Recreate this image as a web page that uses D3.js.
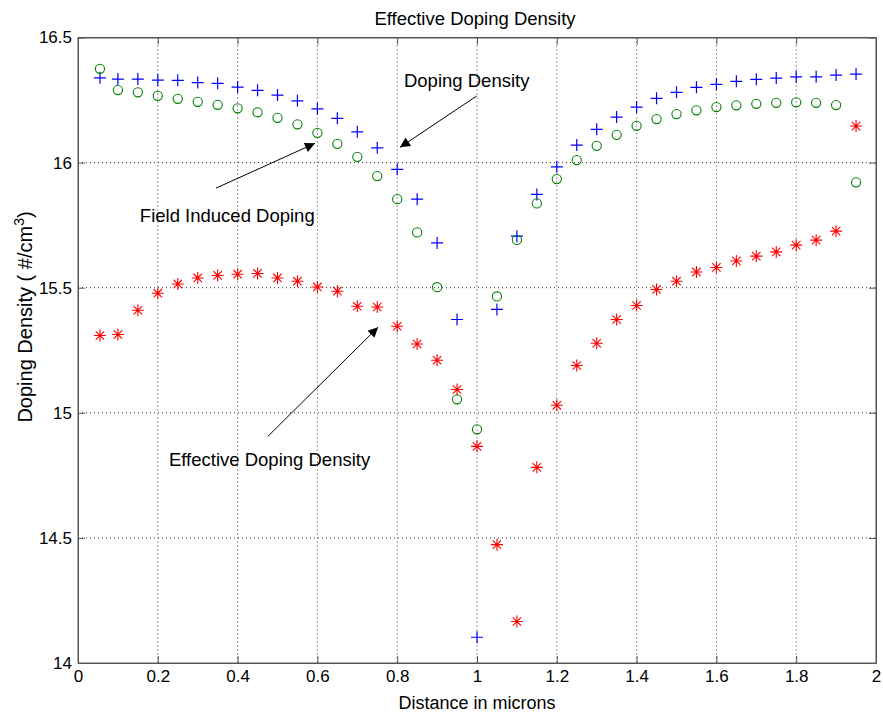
<!DOCTYPE html>
<html>
<head>
<meta charset="utf-8">
<script src="https://cdn.jsdelivr.net/npm/d3@7"></script>
<style>
  body { margin: 0; background: #fff; }
  text { font-family: "Liberation Sans", Arial, sans-serif; fill: #000; }
</style>
</head>
<body>
<svg id="chart" width="883" height="717"></svg>
<script>
// Inputs
const xPos = [0.055, 0.1, 0.15, 0.2, 0.25, 0.3, 0.35, 0.4, 0.45, 0.5, 0.55, 0.6, 0.65, 0.7,
  0.75, 0.8, 0.85, 0.9, 0.95, 1.0, 1.05, 1.1, 1.15, 1.2, 1.25, 1.3, 1.35, 1.4, 1.45,
  1.5, 1.55, 1.6, 1.65, 1.7, 1.75, 1.8, 1.85, 1.9, 1.95];

const dopingDensity = [16.339, 16.334, 16.334, 16.33, 16.329, 16.32, 16.317, 16.302, 16.289,
  16.27, 16.247, 16.215, 16.177, 16.123, 16.059, 15.973, 15.854, 15.679, 15.373, 14.103,
  15.413, 15.706, 15.873, 15.983, 16.07, 16.133, 16.182, 16.222, 16.257, 16.281, 16.301,
  16.313, 16.325, 16.333, 16.338, 16.343, 16.343, 16.35, 16.354];

const fieldInduced = [16.375, 16.29, 16.281, 16.267, 16.255, 16.243, 16.231, 16.217, 16.201,
  16.179, 16.153, 16.119, 16.075, 16.023, 15.946, 15.854, 15.721, 15.502, 15.054, 14.934,
  15.465, 15.691, 15.837, 15.934, 16.01, 16.067, 16.111, 16.147, 16.174, 16.194, 16.209,
  16.222, 16.229, 16.235, 16.239, 16.241, 16.239, 16.23, 15.921];

const effectiveDoping = [15.309, 15.313, 15.41, 15.478, 15.515, 15.539, 15.549, 15.554, 15.557,
  15.539, 15.526, 15.503, 15.486, 15.426, 15.423, 15.346, 15.275, 15.21, 15.093, 14.866,
  14.473, 14.166, 14.782, 15.03, 15.189, 15.278, 15.373, 15.429, 15.493, 15.526, 15.563,
  15.581, 15.607, 15.626, 15.643, 15.67, 15.69, 15.726, 16.146];

const xTicks = [0, 0.2, 0.4, 0.6, 0.8, 1, 1.2, 1.4, 1.6, 1.8, 2];
const yTicks = [14, 14.5, 15, 15.5, 16, 16.5];

// text label, text anchor point, arrow start, arrow end (data units)
const notes = [
  { label: "Doping Density", tx: 0.817, ty: 16.301, x1: 0.999, y1: 16.266, x2: 0.807, y2: 16.061 },
  { label: "Field Induced Doping", tx: 0.155, ty: 15.763, x1: 0.346, y1: 15.898, x2: 0.594, y2: 16.077 },
  { label: "Effective Doping Density", tx: 0.228, ty: 14.786, x1: 0.476, y1: 14.906, x2: 0.752, y2: 15.342 }
];

const margin = { left: 78, right: 7, top: 37.5, bottom: 54 };
const width = 883, height = 717;
const plotW = width - margin.left - margin.right;
const plotH = height - margin.top - margin.bottom;

const svg = d3.select("#chart");
const g = svg.append("g").attr("transform", `translate(${margin.left},${margin.top})`);

const x = d3.scaleLinear().domain([0, 2]).range([0, plotW]);
const y = d3.scaleLinear().domain([14, 16.5]).range([plotH, 0]);

// Grid
g.append("g").selectAll("line.vgrid")
  .data(xTicks.slice(1, -1))
  .join("line")
  .attr("x1", d => x(d)).attr("x2", d => x(d))
  .attr("y1", 0).attr("y2", plotH)
  .attr("stroke", "#333").attr("stroke-width", 1)
  .attr("stroke-dasharray", "1,3");
g.append("g").selectAll("line.hgrid")
  .data(yTicks.slice(1, -1))
  .join("line")
  .attr("x1", 0).attr("x2", plotW)
  .attr("y1", d => y(d)).attr("y2", d => y(d))
  .attr("stroke", "#333").attr("stroke-width", 1)
  .attr("stroke-dasharray", "1,3");

// Axes
const xAxis = g.append("g")
  .attr("transform", `translate(0,${plotH})`)
  .call(d3.axisBottom(x).tickValues(xTicks).tickFormat(d3.format("")).tickSizeInner(-7).tickSizeOuter(0).tickPadding(7));
const xAxisTop = g.append("g")
  .call(d3.axisTop(x).tickValues(xTicks).tickFormat("").tickSizeInner(-7).tickSizeOuter(0));
const yAxis = g.append("g")
  .call(d3.axisLeft(y).tickValues(yTicks).tickFormat(d3.format("")).tickSizeInner(-7).tickSizeOuter(0).tickPadding(6));
const yAxisRight = g.append("g")
  .attr("transform", `translate(${plotW},0)`)
  .call(d3.axisRight(y).tickValues(yTicks).tickFormat("").tickSizeInner(-7).tickSizeOuter(0));

[xAxis, xAxisTop, yAxis, yAxisRight].forEach(a => {
  a.select(".domain").attr("stroke", "#555");
  a.selectAll(".tick line").attr("stroke", "#555");
  a.selectAll("text").style("font-size", "17px").attr("fill", "#000")
    .style("font-family", "'Liberation Sans', Arial, sans-serif");
});

// Box
g.append("rect")
  .attr("x", 0).attr("y", 0).attr("width", plotW).attr("height", plotH)
  .attr("fill", "none").attr("stroke", "#555").attr("stroke-width", 1);

// Markers
const plus = g.append("g").selectAll("path.plus")
  .data(xPos.map((d, i) => [d, dopingDensity[i]]))
  .join("path")
  .attr("transform", d => `translate(${x(d[0])},${y(d[1])})`)
  .attr("d", "M-6,0H6M0,-6V6")
  .attr("stroke", "#0000ff").attr("stroke-width", 1.2).attr("fill", "none");

const circles = g.append("g").selectAll("circle")
  .data(xPos.map((d, i) => [d, fieldInduced[i]]))
  .join("circle")
  .attr("cx", d => x(d[0])).attr("cy", d => y(d[1]))
  .attr("r", 4.6)
  .attr("stroke", "#008000").attr("stroke-width", 1.1).attr("fill", "none");

const stars = g.append("g").selectAll("path.star")
  .data(xPos.map((d, i) => [d, effectiveDoping[i]]))
  .join("path")
  .attr("transform", d => `translate(${x(d[0])},${y(d[1])})`)
  .attr("d", "M-6,0H6M0,-6V6M-4.2,-4.2L4.2,4.2M-4.2,4.2L4.2,-4.2")
  .attr("stroke", "#ff0000").attr("stroke-width", 1.1).attr("fill", "none");

// Annotations
svg.append("defs").append("marker")
  .attr("id", "arrow")
  .attr("viewBox", "0 0 10 10")
  .attr("refX", 10).attr("refY", 5)
  .attr("markerWidth", 14).attr("markerHeight", 10)
  .attr("markerUnits", "userSpaceOnUse")
  .attr("orient", "auto")
  .append("path").attr("d", "M0,0L10,5L0,10z").attr("fill", "#000");

const noteGroup = g.append("g").selectAll("g.note").data(notes).join("g");
noteGroup.append("line")
  .attr("x1", d => x(d.x1)).attr("y1", d => y(d.y1))
  .attr("x2", d => x(d.x2)).attr("y2", d => y(d.y2))
  .attr("stroke", "#000").attr("stroke-width", 1)
  .attr("marker-end", "url(#arrow)");
noteGroup.append("text")
  .attr("x", d => x(d.tx)).attr("y", d => y(d.ty))
  .style("font-size", "18.5px")
  .text(d => d.label);

// Titles
svg.append("text")
  .attr("x", 475).attr("y", 25)
  .attr("text-anchor", "middle").style("font-size", "18.5px")
  .text("Effective Doping Density");

svg.append("text")
  .attr("x", margin.left + plotW / 2).attr("y", 709)
  .attr("text-anchor", "middle").style("font-size", "18px")
  .text("Distance in microns");

const yl = svg.append("text")
  .attr("transform", `translate(32,317) rotate(-90)`)
  .attr("text-anchor", "middle").style("font-size", "20px");
yl.append("tspan").text("Doping Density ( #/cm");
yl.append("tspan").attr("dy", -8).style("font-size", "14px").text("3");
yl.append("tspan").attr("dy", 8).text(")");
</script>
</body>
</html>
